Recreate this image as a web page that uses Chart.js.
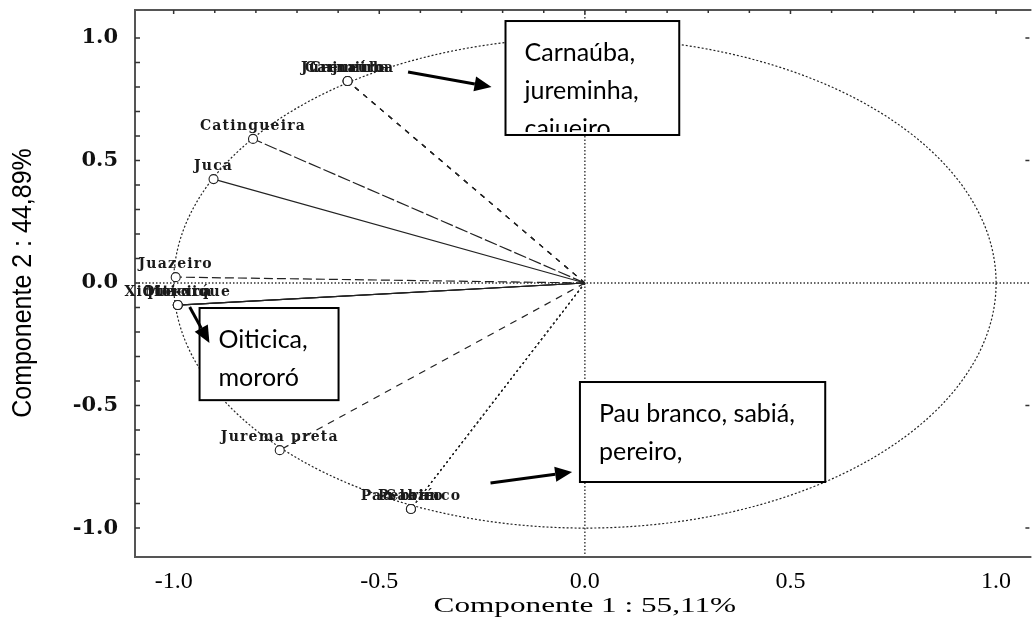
<!DOCTYPE html>
<html><head><meta charset="utf-8">
<script src="https://cdn.jsdelivr.net/npm/chart.js@4.4.1/dist/chart.umd.min.js"></script>
<style>html,body{margin:0;padding:0;background:#fff;overflow:hidden}</style>
</head><body>
<canvas id="c" width="1035" height="626"></canvas>
<script>
// ---- data ----
const variables = ["Jureminha", "Carnaúba", "Cajueiro", "Catingueira", "Juca", "Juazeiro",
                   "Xique-xique", "Mororó", "Oiticica", "Jurema preta", "Pau branco", "Sabiá", "Pereiro"];
const comp1 = [-0.577, -0.577, -0.577, -0.807, -0.903, -0.995, -0.990, -0.990, -0.990, -0.742, -0.423, -0.423, -0.423];
const comp2 = [0.824, 0.824, 0.824, 0.588, 0.424, 0.024, -0.090, -0.090, -0.090, -0.682, -0.922, -0.922, -0.922];
const xTickValues = [-1.0, -0.5, 0.0, 0.5, 1.0];
const yTickValues = [-1.0, -0.5, 0.0, 0.5, 1.0];
const xTitle = "Componente 1 : 55,11%";
const yTitle = "Componente 2 : 44,89%";
const noteTexts = [["Carnaúba,", "jureminha,", "cajueiro"], ["Oiticica,", "mororó"], ["Pau branco, sabiá,", "pereiro,"]];

// ---- styles / placement (kept apart from the data) ----
const vectorDash = [[5,6],[5,6],[5,6],[13,3],[],[9,4],[],[],[],[7,6],[2,3],[2,3],[2,3]];
const noteBoxes = [
  {x0:-0.193, x1:0.2295, y0:1.069, y1:0.604},
  {x0:-0.937, x1:-0.599, y0:-0.102, y1:-0.478},
  {x0:-0.012, x1:0.5845, y0:-0.404, y1:-0.812}
];
const noteArrows = [
  {x1:-0.430, y1:0.861, x2:-0.227, y2:0.800},
  {x1:-0.961, y1:-0.098, x2:-0.913, y2:-0.245},
  {x1:-0.2295, y1:-0.816, x2:-0.031, y2:-0.771}
];

const datasets = variables.map((name, i) => ({
  label: name,
  data: [{x: 0, y: 0}, {x: comp1[i], y: comp2[i]}],
  showLine: true,
  borderColor: '#222',
  borderWidth: 1.2,
  borderDash: vectorDash[i],
  pointRadius: [0, 4.5],
  pointBackgroundColor: '#fff',
  pointBorderColor: '#222',
  pointBorderWidth: 1.1
}));
datasets.push({
  label: 'centres',
  data: variables.map((n, i) => ({x: comp1[i], y: comp2[i]})),
  showLine: false,
  pointRadius: 1.2,
  pointBackgroundColor: '#222',
  pointBorderWidth: 0
});

function drawArrow(ctx, x1, y1, x2, y2) {
  const a = Math.atan2(y2 - y1, x2 - x1), hl = 17, hw = 7.5;
  const bx = x2 - hl * Math.cos(a), by = y2 - hl * Math.sin(a);
  ctx.lineWidth = 3;
  ctx.beginPath(); ctx.moveTo(x1, y1); ctx.lineTo(bx, by); ctx.stroke();
  ctx.beginPath(); ctx.moveTo(x2, y2);
  ctx.lineTo(bx - hw * Math.sin(a), by + hw * Math.cos(a));
  ctx.lineTo(bx + hw * Math.sin(a), by - hw * Math.cos(a));
  ctx.closePath(); ctx.fill();
}

const overlay = {
  id: 'overlay',
  beforeDatasetsDraw(chart) {
    const {ctx, chartArea: a, scales: {x, y}} = chart;
    const x0 = x.getPixelForValue(0), y0 = y.getPixelForValue(0);
    ctx.save();
    ctx.beginPath(); ctx.rect(a.left, a.top, a.right - a.left, a.bottom - a.top); ctx.clip();
    ctx.strokeStyle = '#333'; ctx.lineWidth = 1.4; ctx.setLineDash([1.5, 2]);
    ctx.beginPath();
    ctx.moveTo(x0, a.top); ctx.lineTo(x0, a.bottom);
    ctx.moveTo(a.left, y0); ctx.lineTo(a.right, y0);
    ctx.stroke();
    const rx = x.getPixelForValue(1) - x0, ry = y0 - y.getPixelForValue(1);
    ctx.strokeStyle = '#222'; ctx.lineWidth = 1.2; ctx.setLineDash([2, 2]);
    ctx.beginPath(); ctx.ellipse(x0, y0, rx, ry, 0, 0, Math.PI * 2); ctx.stroke();
    ctx.restore();
  },
  afterDatasetsDraw(chart) {
    const {ctx, chartArea: a, scales: {x, y}} = chart;
    ctx.save();
    // frame
    ctx.strokeStyle = '#555'; ctx.lineWidth = 2; ctx.setLineDash([]);
    ctx.beginPath();
    ctx.moveTo(a.right + 2, a.top); ctx.lineTo(a.left, a.top); ctx.lineTo(a.left, a.bottom); ctx.lineTo(a.right + 2, a.bottom);
    ctx.stroke();
    // inner ticks
    ctx.lineWidth = 1.5; ctx.strokeStyle = '#333';
    ctx.beginPath();
    for (let k = -10; k <= 10; k++) {
      const v = k / 10;
      const px = x.getPixelForValue(v), py = y.getPixelForValue(v);
      ctx.moveTo(px, a.top); ctx.lineTo(px, a.top + (k % 5 === 0 ? 4 : 3));
      ctx.moveTo(a.left, py); ctx.lineTo(a.left + 5, py);
      if (k % 5 === 0 && k !== 0) { ctx.moveTo(a.right, py); ctx.lineTo(a.right - 4, py); }
    }
    ctx.stroke();
    // variable labels
    ctx.font = 'bold 14px "DejaVu Serif"';
    try { ctx.letterSpacing = '1.2px'; } catch (e) {}
    ctx.fillStyle = '#1a1a1a'; ctx.textAlign = 'center'; ctx.textBaseline = 'middle';
    variables.forEach((name, i) => {
      ctx.fillText(name, x.getPixelForValue(comp1[i]), y.getPixelForValue(comp2[i]) - 13);
    });
    ctx.restore();
    // axis titles (stretched like the reference)
    ctx.save();
    ctx.fillStyle = '#000'; ctx.textAlign = 'center'; ctx.textBaseline = 'middle';
    ctx.font = '22px "Liberation Serif"';
    ctx.translate(x.getPixelForValue(0), 606);
    ctx.scale(1.42, 1);
    ctx.fillText(xTitle, 0, 0);
    ctx.restore();
    ctx.save();
    ctx.fillStyle = '#000'; ctx.textAlign = 'center'; ctx.textBaseline = 'middle';
    ctx.font = '25px "Liberation Sans"';
    ctx.translate(23, y.getPixelForValue(0));
    ctx.rotate(-Math.PI / 2);
    ctx.scale(1, 1.12);
    ctx.fillText(yTitle, 0, 0);
    ctx.restore();
  },
  afterDraw(chart) {
    const {ctx, scales: {x, y}} = chart;
    ctx.save();
    noteBoxes.forEach((b, i) => {
      const L = x.getPixelForValue(b.x0), R = x.getPixelForValue(b.x1);
      const T = y.getPixelForValue(b.y0), B = y.getPixelForValue(b.y1);
      ctx.fillStyle = '#fff'; ctx.fillRect(L, T, R - L, B - T);
      ctx.save();
      ctx.beginPath(); ctx.rect(L + 1, T + 1, R - L - 2, B - T - 4); ctx.clip();
      ctx.font = '25px Lato'; ctx.fillStyle = '#000'; ctx.textAlign = 'left'; ctx.textBaseline = 'alphabetic';
      noteTexts[i].forEach((s, j) => ctx.fillText(s, L + 19, T + 40 + j * 38));
      ctx.restore();
      ctx.lineWidth = 2; ctx.strokeStyle = '#000'; ctx.setLineDash([]);
      ctx.strokeRect(L, T, R - L, B - T);
    });
    ctx.fillStyle = '#000'; ctx.strokeStyle = '#000';
    noteArrows.forEach(r => drawArrow(ctx, x.getPixelForValue(r.x1), y.getPixelForValue(r.y1),
                                        x.getPixelForValue(r.x2), y.getPixelForValue(r.y2)));
    ctx.restore();
  }
};

new Chart(document.getElementById('c'), {
  type: 'scatter',
  data: {datasets},
  plugins: [overlay],
  options: {
    responsive: false,
    devicePixelRatio: 1,
    animation: false,
    layout: {padding: {top: 10, right: 0, left: 0, bottom: 0}},
    plugins: {legend: {display: false}, tooltip: {enabled: false}},
    scales: {
      x: {
        type: 'linear', min: -1.094, max: 1.081,
        afterBuildTicks: s => { s.ticks = xTickValues.map(v => ({value: v})); },
        afterFit: s => { s.height = 69; s.paddingLeft = 0; s.paddingRight = 0; },
        grid: {display: false, drawTicks: false},
        border: {display: false},
        ticks: {padding: 10, color: '#000', font: {family: '"Liberation Serif"', size: 24},
                callback: v => Number(v).toFixed(1)},
        title: {display: false, text: xTitle}
      },
      y: {
        type: 'linear', min: -1.118, max: 1.114,
        afterBuildTicks: s => { s.ticks = yTickValues.map(v => ({value: v})); },
        afterFit: s => { s.width = 135; s.paddingTop = 0; s.paddingBottom = 0; },
        grid: {display: false, drawTicks: false},
        border: {display: false},
        ticks: {padding: 17, color: '#111', font: {family: '"DejaVu Serif"', size: 21, weight: 'bold'},
                callback: v => Number(v).toFixed(1)},
        title: {display: false, text: yTitle}
      }
    }
  }
});
</script>
</body></html>
